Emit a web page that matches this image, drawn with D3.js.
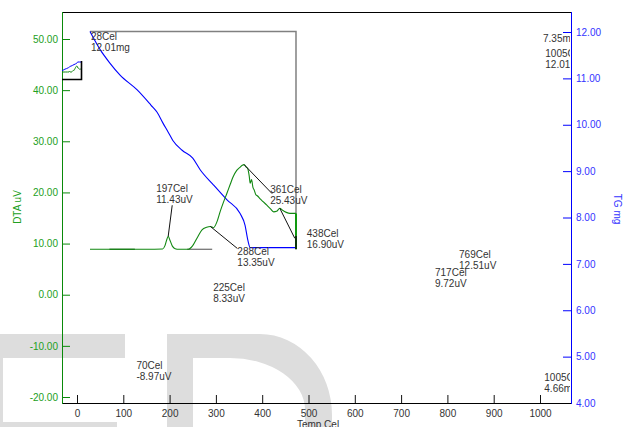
<!DOCTYPE html>
<html>
<head>
<meta charset="utf-8">
<script src="https://cdn.jsdelivr.net/npm/d3@7"></script>
<style>
  html, body { margin: 0; padding: 0; background: #fff; }
  svg { display: block; font-family: "Liberation Sans", Arial, sans-serif; }
</style>
</head>
<body>
<script>
// ---- data -------------------------------------------------------------
// TG curve (mass, mg) against temperature (Cel)
const tgTemp = [28, 50, 71, 93, 130, 160, 173, 186, 197, 207, 227, 250, 266, 295, 324, 352, 363, 369, 374, 420, 473];
const tgMass = [12.01, 11.62, 11.33, 11.07, 10.75, 10.42, 10.27, 10.03, 9.84, 9.66, 9.45, 9.28, 9.03, 8.70, 8.38, 8.09, 7.83, 7.51, 7.35, 7.35, 7.35];

// DTA curve (uV) against temperature (Cel)
const dtaTemp = [28, 100, 150, 185, 190, 194, 197, 201, 206, 212, 220, 240, 250, 260, 270, 280, 288, 295, 302, 309, 316, 324, 331, 337, 345, 352, 357, 361, 365, 369, 372, 374, 377, 380, 383, 386, 390, 395, 402, 410, 418, 425, 431, 438, 444, 452, 460, 473];
const dtaVal  = [8.88, 8.88, 8.88, 8.95, 9.6, 10.8, 11.43, 10.6, 9.5, 9.0, 8.88, 8.88, 9.6, 11.2, 12.7, 13.2, 13.35, 13.1, 14.2, 16.2, 18.0, 19.9, 21.6, 23.0, 24.3, 24.9, 25.3, 25.43, 25.0, 24.6, 23.2, 21.8, 22.5, 21.0, 20.4, 19.6, 19.3, 18.8, 18.2, 17.5, 16.8, 16.2, 16.3, 16.90, 16.5, 16.1, 15.9, 15.9];

// DTA end drop and baseline segments (Cel, uV)
const dtaEndTemp = 473;
const dtaEndGreen = [15.9, 11.5];
const dtaEndDark  = [11.5, 8.88];
const baseSegTemp = [[70, 125], [238, 292]];
const baseSegVal = 8.88;

// peak / point annotations
const annoTemp  = [28, 197, 288, 361, 438, 225, 70, 717, 769, 1005, 1005];
const annoValue = [12.01, 11.43, 13.35, 25.43, 16.90, 8.33, -8.97, 9.72, 12.51, 12.01, 4.66];
const annoUnit  = ["mg", "uV", "uV", "uV", "uV", "uV", "uV", "uV", "uV", "mg", "mg"];
const tgEndLabel = 7.35;

// axis ticks
const tempTicks = [0, 100, 200, 300, 400, 500, 600, 700, 800, 900, 1000];
const dtaTicks  = [-20, -10, 0, 10, 20, 30, 40, 50];
const tgTicks   = [4, 5, 6, 7, 8, 9, 10, 11, 12];

// ---- layout -----------------------------------------------------------
const W = 624, H = 427;
const pL = 62, pR = 571, pT = 12, pB = 403;

// fixed two-decimal format with a plain hyphen for negatives
const fmt2 = v => v.toFixed(2);

const svg = d3.select("body").append("svg")
  .attr("width", W).attr("height", H);

const x  = d3.scaleLinear().domain([0, 1000]).range([77, 540]);
const yL = d3.scaleLinear().domain([-20, 50]).range([397, 39]);
const yR = d3.scaleLinear().domain([4, 12]).range([403, 32]);

// background lettering
const mark = svg.append("g").attr("fill", "#dddddd");
mark.append("path")
  .attr("d", "M-60,334 H125 V358 H3 V422 H117 V460 H-60 Z");
mark.append("path")
  .attr("fill-rule", "evenodd")
  .attr("d", "M167,334 H260 A72,81 0 0 1 332,415 V460 H167 Z " +
             "M193,358 H230 A75,52 0 0 1 305,410 V460 H193 Z");

// clip for the plotting area
svg.append("clipPath").attr("id", "plotClip")
  .append("rect").attr("x", pL).attr("y", pT)
  .attr("width", pR - pL - 1).attr("height", pB - pT);

// ---- axes -------------------------------------------------------------
const green = "#0a8a0a", greenText = "#22a022";
const blue = "#0000ff", blueText = "#3333ff";

// bottom (temperature)
const gx = svg.append("g").attr("transform", `translate(0,${pB})`)
  .call(d3.axisBottom(x).tickValues(tempTicks).tickSize(-8).tickPadding(7)
        .tickFormat(d => String(d)));
gx.select(".domain").remove();
gx.selectAll(".tick line").attr("stroke", "#111");
gx.selectAll(".tick text").attr("fill", "#333").style("font-size", "10px");

// left (DTA)
const gl = svg.append("g").attr("transform", `translate(${pL},0)`)
  .call(d3.axisLeft(yL).tickValues(dtaTicks).tickSize(-8).tickPadding(4)
        .tickFormat(fmt2));
gl.select(".domain").remove();
gl.selectAll(".tick line").attr("stroke", green);
gl.selectAll(".tick text").attr("fill", greenText).style("font-size", "10px");

// right (TG)
const gr = svg.append("g").attr("transform", `translate(${pR},0)`)
  .call(d3.axisRight(yR).tickValues(tgTicks).tickSize(-8).tickPadding(5)
        .tickFormat(fmt2));
gr.select(".domain").remove();
gr.selectAll(".tick line").attr("stroke", blue);
gr.selectAll(".tick text").attr("fill", blueText).style("font-size", "10px");

// frame lines
svg.append("line").attr("x1", pL).attr("x2", pR).attr("y1", pT + 0.5).attr("y2", pT + 0.5)
  .attr("stroke", "#000");
svg.append("line").attr("x1", pL).attr("x2", pR).attr("y1", pB + 0.5).attr("y2", pB + 0.5)
  .attr("stroke", "#000");
svg.append("line").attr("x1", pL + 0.5).attr("x2", pL + 0.5).attr("y1", pT).attr("y2", pB + 1)
  .attr("stroke", green);
svg.append("line").attr("x1", pR + 0.5).attr("x2", pR + 0.5).attr("y1", pT).attr("y2", pB + 1)
  .attr("stroke", blue);

// axis titles
svg.append("text").attr("transform", "translate(21,207) rotate(-90)")
  .attr("text-anchor", "middle").attr("fill", greenText).style("font-size", "10px")
  .text("DTA uV");
svg.append("text").attr("transform", "translate(614,209) rotate(90)")
  .attr("text-anchor", "middle").attr("fill", blueText).style("font-size", "10px")
  .text("TG mg");
svg.append("text").attr("x", 318).attr("y", 428)
  .attr("text-anchor", "middle").attr("fill", "#333").style("font-size", "10px")
  .text("Temp Cel");

// ---- curves -----------------------------------------------------------
const plot = svg.append("g").attr("clip-path", "url(#plotClip)");

const tgPts = tgTemp.map((t, i) => [t, tgMass[i]]);
const dtaPts = dtaTemp.map((t, i) => [t, dtaVal[i]]);

// TG start/end frame
plot.append("path")
  .attr("fill", "none").attr("stroke", "#808080").attr("stroke-width", 1.5)
  .attr("d", d3.line()([
    [x(tgTemp[0]), yR(tgMass[0])],
    [x(tgTemp[tgTemp.length - 1]), yR(tgMass[0])],
    [x(tgTemp[tgTemp.length - 1]), yR(tgMass[tgMass.length - 1])]
  ]));

// baseline segments
baseSegTemp.forEach((s, i) => {
  plot.append("line")
    .attr("x1", x(s[0])).attr("x2", x(s[1]))
    .attr("y1", yL(baseSegVal)).attr("y2", yL(baseSegVal))
    .attr("stroke", i === 0 ? "#2f6f2f" : "#777").attr("stroke-width", 1.3);
});

// TG curve
plot.append("path").datum(tgPts)
  .attr("fill", "none").attr("stroke", blue).attr("stroke-width", 1.1)
  .attr("d", d3.line().x(d => x(d[0])).y(d => yR(d[1])).curve(d3.curveMonotoneX));

// DTA curve
plot.append("path").datum(dtaPts)
  .attr("fill", "none").attr("stroke", "#118811").attr("stroke-width", 1.1)
  .attr("d", d3.line().x(d => x(d[0])).y(d => yL(d[1])).curve(d3.curveMonotoneX));

// DTA end drop
plot.append("line")
  .attr("x1", x(dtaEndTemp)).attr("x2", x(dtaEndTemp))
  .attr("y1", yL(dtaEndGreen[0])).attr("y2", yL(dtaEndGreen[1]))
  .attr("stroke", "#119911").attr("stroke-width", 2);
plot.append("line")
  .attr("x1", x(dtaEndTemp)).attr("x2", x(dtaEndTemp))
  .attr("y1", yL(dtaEndDark[0])).attr("y2", yL(dtaEndDark[1]))
  .attr("stroke", "#0b330b").attr("stroke-width", 2);

// ---- annotations ------------------------------------------------------
// label offsets from the marked point: [dx, dy to first text line centre]
const labelOffset = [[1, 5], [-12, -48], [27, 25], [26, 25], [27, 25], [32, 35], [27, 25], [26, 27], [26, 24], [3, 22], [2, 5]];
// leader line end offsets (null = no leader)
const leaderOffset = [null, [4, -31], [27, 22], [28, 29], [15, 30], null, null, null, null, null, null];

const ann = plot.append("g").style("font-size", "10px").attr("fill", "#333");
annoTemp.forEach((t, i) => {
  const px = x(t);
  const py = annoUnit[i] === "mg" ? yR(annoValue[i]) : yL(annoValue[i]);
  if (leaderOffset[i]) {
    ann.append("line")
      .attr("x1", px).attr("y1", py)
      .attr("x2", px + leaderOffset[i][0]).attr("y2", py + leaderOffset[i][1])
      .attr("stroke", "#111").attr("stroke-width", 1);
  }
  const lx = px + labelOffset[i][0], ly = py + labelOffset[i][1];
  ann.append("text").attr("x", lx).attr("y", ly + 3.5).text(`${t}${t >= 1000 ? "C" : "Cel"}`);
  ann.append("text").attr("x", lx).attr("y", ly + 14.5)
    .text(`${fmt2(annoValue[i])}${annoUnit[i]}`);
});
ann.append("text").attr("x", 543).attr("y", yR(12) + 9.5).text(`${fmt2(tgEndLabel)}mg`);

// ---- overview thumbnail -----------------------------------------------
const xm = d3.scaleLinear().domain([28, 473]).range([62, 82]);
const ymTG = d3.scaleLinear().domain([12.01, 7.35]).range([71, 62]);
const ymDTA = d3.scaleLinear().domain([8.88, 25.43]).range([72, 66]);
const thumb = svg.append("g");
thumb.append("path").datum(tgPts)
  .attr("fill", "none").attr("stroke", blue).attr("stroke-width", 1)
  .attr("d", d3.line().x(d => xm(d[0])).y(d => ymTG(d[1])));
thumb.append("path").datum(dtaPts)
  .attr("fill", "none").attr("stroke", "#118811").attr("stroke-width", 1)
  .attr("d", d3.line().x(d => xm(d[0])).y(d => ymDTA(d[1])));
thumb.append("path")
  .attr("fill", "none").attr("stroke", "#000").attr("stroke-width", 1.6)
  .attr("d", "M81.5,61 V79.5 H62");
</script>
</body>
</html>
